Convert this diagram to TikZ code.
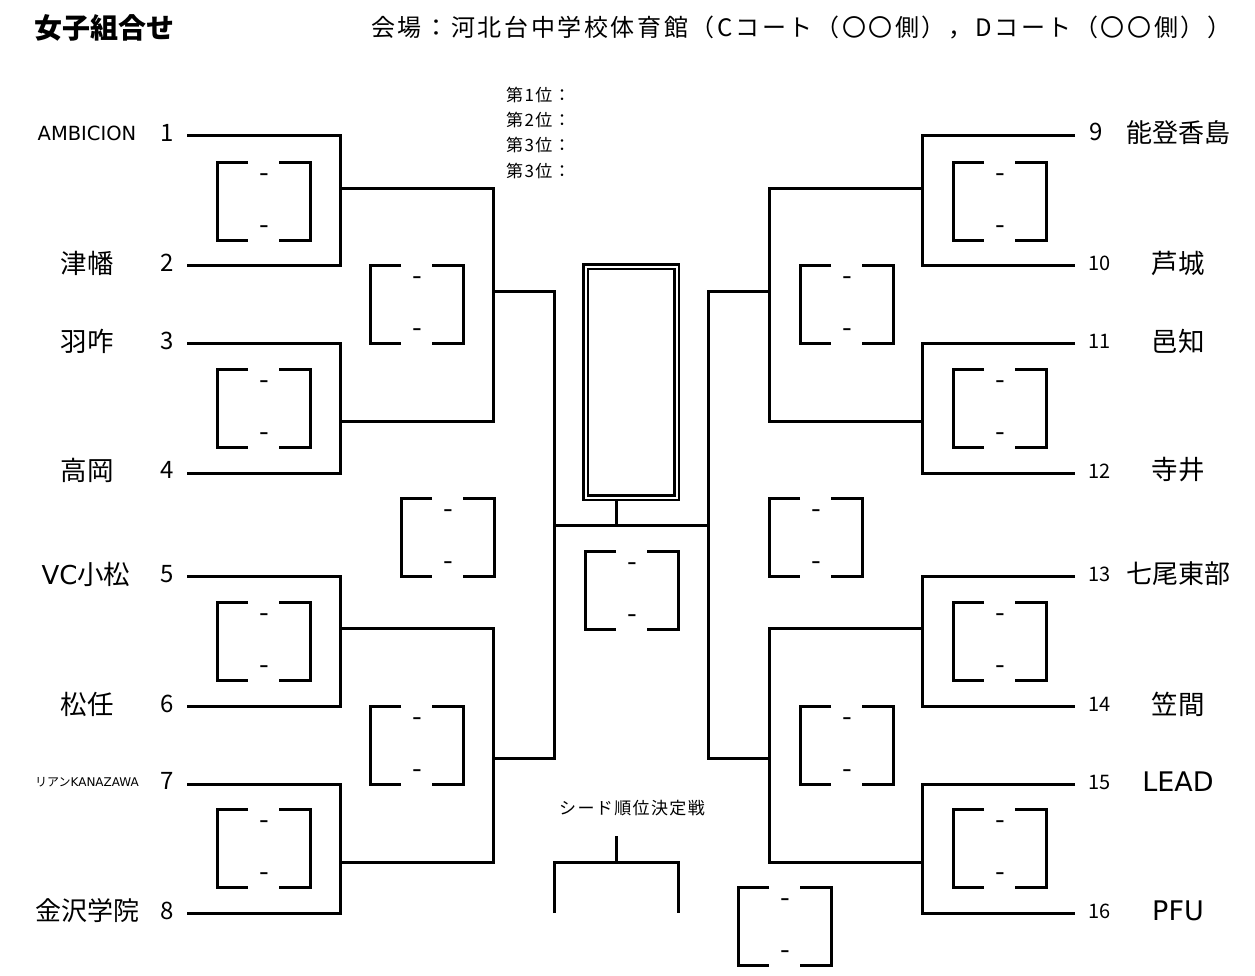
\documentclass[tikz,border=0pt]{standalone}
\usepackage{fontspec}
\setmainfont{Noto Sans CJK JP}
\newfontfamily\venuefont[LetterSpace=11]{Noto Sans CJK JP}
\newfontfamily\latfont{DejaVu Sans}
\newfontfamily\rankfont[LetterSpace=8]{Noto Sans CJK JP}
\begin{document}
\begin{tikzpicture}[x=1pt,y=-1pt,
  br/.style={line width=3pt, line join=miter},
  nm/.style={inner sep=0pt, font=\fontsize{26.5}{26.5}\selectfont},
  num/.style={inner sep=0pt, font=\fontsize{24}{24}\selectfont},
  rnum/.style={inner sep=0pt, anchor=west, font=\fontsize{20}{20}\selectfont},
  rank/.style={inner sep=0pt, anchor=west, font=\fontsize{17}{17}\rankfont},
  dashtxt/.style={inner sep=0pt, font=\fontsize{28}{28}\selectfont},
  scorebox/.pic={
    \draw[br] (31,0) -- (0,0) -- (0,78) -- (31,78);
    \draw[br] (62,0) -- (93,0) -- (93,78) -- (62,78);
    \node[dashtxt] (-up) at (47,16) {-};
    \node[dashtxt] (-dn) at (47,68) {-};
  }]
\useasboundingbox (0,0) rectangle (1255,975);

% titles
\node[inner sep=0pt, anchor=west, font=\fontsize{28}{28}\selectfont\bfseries] (title) at (34,28) {女子組合せ};
\node[inner sep=0pt, anchor=west, font=\fontsize{24}{24}\venuefont] (venue) at (371,28) {会場：河北台中学校体育館（Cコート（〇〇側），Dコート（〇〇側））};

% ranking
\node[rank] (r1) at (506,95) {第1位：};
\node[rank] (r2) at (506,120) {第2位：};
\node[rank] (r3) at (506,145) {第3位：};
\node[rank] (r4) at (506,171) {第3位：};

% left teams
\node[nm, font=\fontsize{19.5}{19.5}\latfont] (n1) at (87,133) {AMBICION};
\node[nm] (n2) at (87,263) {津幡};
\node[nm] (n3) at (87,341) {羽咋};
\node[nm] (n4) at (87,470) {高岡};
\node[nm] (n5) at (86,574) {{\latfont\fontsize{26}{26}\selectfont VC}小松};
\node[nm] (n6) at (87,704) {松任};
\node[nm, font=\fontsize{12}{12}\selectfont] (n7) at (87,782) {リアン{\latfont KANAZAWA}};
\node[nm, font=\fontsize{26}{26}\selectfont] (n8) at (87,911) {金沢学院};
\node[num] (k1) at (167,133) {1};
\node[num] (k2) at (167,263) {2};
\node[num] (k3) at (167,341) {3};
\node[num] (k4) at (167,470) {4};
\node[num] (k5) at (167,574) {5};
\node[num] (k6) at (167,704) {6};
\node[num] (k7) at (167,781) {7};
\node[num] (k8) at (167,911) {8};

% right teams
\node[rnum, font=\fontsize{24}{24}\selectfont\itshape] (k9) at (1089,132) {9};
\node[rnum] (k10) at (1088,263) {10};
\node[rnum] (k11) at (1088,341) {11};
\node[rnum] (k12) at (1088,471) {12};
\node[rnum] (k13) at (1088,574) {13};
\node[rnum] (k14) at (1088,704) {14};
\node[rnum] (k15) at (1088,782) {15};
\node[rnum] (k16) at (1088,911) {16};
\node[nm, font=\fontsize{26}{26}\selectfont] (n9) at (1178,133) {能登香島};
\node[nm] (n10) at (1178,263) {芦城};
\node[nm] (n11) at (1178,341) {邑知};
\node[nm] (n12) at (1178,470) {寺井};
\node[nm, font=\fontsize{26}{26}\selectfont] (n13) at (1178,574) {七尾東部};
\node[nm] (n14) at (1178,704) {笠間};
\node[nm, font=\fontsize{27}{27}\latfont] (n15) at (1178,782) {LEAD};
\node[nm, font=\fontsize{27}{27}\latfont] (n16) at (1178,911) {PFU};

% left bracket coordinates
\coordinate (L1) at (187,135); \coordinate (L2) at (187,265);
\coordinate (L3) at (187,343); \coordinate (L4) at (187,473);
\coordinate (L5) at (187,576); \coordinate (L6) at (187,706);
\coordinate (L7) at (187,784); \coordinate (L8) at (187,913);
\coordinate (LA1) at (340,188); \coordinate (LA2) at (340,421);
\coordinate (LA3) at (340,628); \coordinate (LA4) at (340,862);
\coordinate (LB1) at (493,291); \coordinate (LB2) at (493,758);
\coordinate (LC1) at (554,291); \coordinate (LC2) at (554,758);
\coordinate (LE) at (554,525);

% right bracket coordinates
\coordinate (R1) at (1075,135); \coordinate (R2) at (1075,265);
\coordinate (R3) at (1075,343); \coordinate (R4) at (1075,473);
\coordinate (R5) at (1075,576); \coordinate (R6) at (1075,706);
\coordinate (R7) at (1075,784); \coordinate (R8) at (1075,913);
\coordinate (RA1) at (922,188); \coordinate (RA2) at (922,421);
\coordinate (RA3) at (922,628); \coordinate (RA4) at (922,862);
\coordinate (RB1) at (769,291); \coordinate (RB2) at (769,758);
\coordinate (RC1) at (708,291); \coordinate (RC2) at (708,758);
\coordinate (RE) at (708,525);

% left lines
\draw[br] (L1) -| (LA1) |- (L2);
\draw[br] (L3) -| (LA2) |- (L4);
\draw[br] (L5) -| (LA3) |- (L6);
\draw[br] (L7) -| (LA4) |- (L8);
\draw[br] (LA1) -| (LB1) |- (LA2);
\draw[br] (LA3) -| (LB2) |- (LA4);
\draw[br] (LB1) -- (LC1) -- (LC2) -- (LB2);
% right lines
\draw[br] (R1) -| (RA1) |- (R2);
\draw[br] (R3) -| (RA2) |- (R4);
\draw[br] (R5) -| (RA3) |- (R6);
\draw[br] (R7) -| (RA4) |- (R8);
\draw[br] (RA1) -| (RB1) |- (RA2);
\draw[br] (RA3) -| (RB2) |- (RA4);
\draw[br] (RB1) -- (RC1) -- (RC2) -- (RB2);
% final
\draw[br] (LE) -- (RE);
\node[draw, line width=2.5pt, double, double distance=2pt, minimum width=91pt, minimum height=231pt, inner sep=0pt] (final) at (631,382) {};
\coordinate (stem) at (616,525);
\draw[br] (stem) -- (stem |- final.south);

% score boxes
\pic (s1) at (217,162) {scorebox};
\pic (s2) at (217,369) {scorebox};
\pic (s3) at (217,602) {scorebox};
\pic (s4) at (217,809) {scorebox};
\pic (s5) at (370,265) {scorebox};
\pic (s6) at (370,706) {scorebox};
\pic (s7) at (401,498) {scorebox};
\pic (s8) at (585,551) {scorebox};
\pic (s9) at (769,498) {scorebox};
\pic (s10) at (800,265) {scorebox};
\pic (s11) at (800,706) {scorebox};
\pic (s12) at (953,162) {scorebox};
\pic (s13) at (953,369) {scorebox};
\pic (s14) at (953,602) {scorebox};
\pic (s15) at (953,809) {scorebox};
\pic (s16) at (738,887) {scorebox};

% seed playoff
\node[inner sep=0pt, font=\fontsize{17}{17}\rankfont] (seed) at (632,808) {シード順位決定戦};
\coordinate (sd) at (616,836); \coordinate (sj) at (616,862);
\coordinate (sl) at (554,913); \coordinate (sr) at (678,913);
\draw[br] (sd) -- (sj);
\draw[br] (sl) -- (sl |- sj) -- (sr |- sj) -- (sr);
\end{tikzpicture}
\end{document}
